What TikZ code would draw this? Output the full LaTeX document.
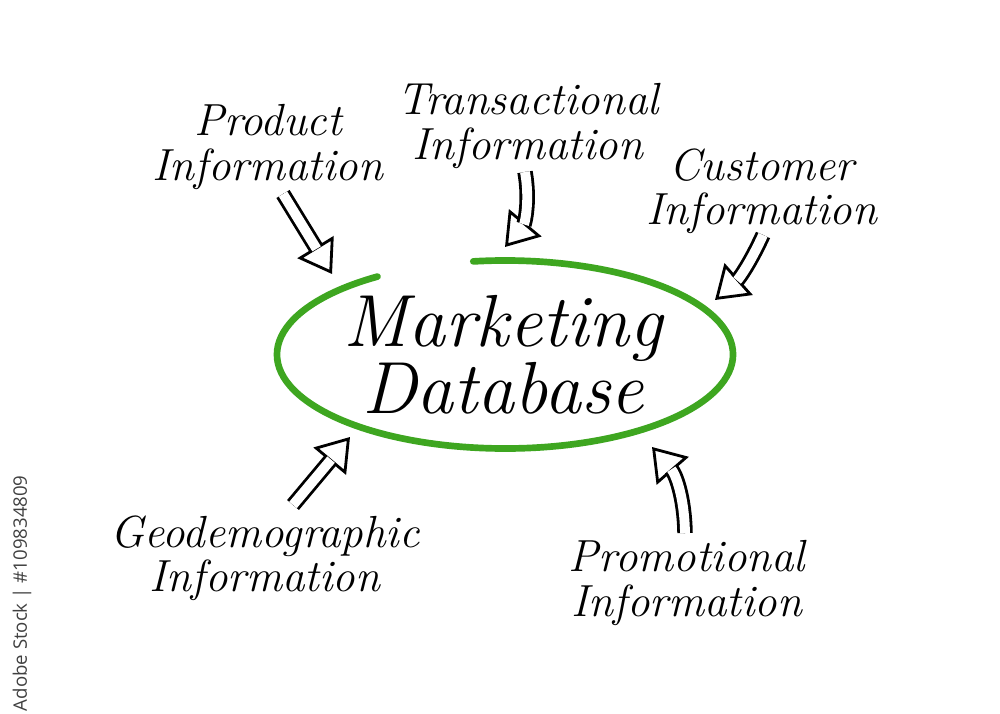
\documentclass[tikz,border=0pt]{standalone}
\usepackage{fontspec}
\newfontfamily\stockfont{Open Sans}
\usetikzlibrary{arrows.meta}
\definecolor{rimgreen}{RGB}{62,166,32}
\begin{document}
\begin{tikzpicture}[
  label/.style={align=center, font=\fontsize{12.8}{12.6}\selectfont\itshape},
  head/.style={line width=0.8pt, -{Triangle[open, length=9pt, width=12pt]}},
  shaft/.style={line width=0.8pt, double=white, double distance=2.8pt, shorten >=8.4pt},
  rim/.style={rimgreen, line width=1.9pt, line cap=round}
]
\useasboundingbox (0,0) rectangle (10,7.13);
\node[align=center, font=\fontsize{21}{19}\selectfont\itshape] (mkt) at (5.03,3.58) {Marketing\\Database};
\draw[rim] (5.05,3.585) ++(124:2.28 and 0.94) arc[start angle=124, end angle=458, x radius=2.28, y radius=0.94];
\node[label] (prod) at (2.68,5.66) {Product\\Information};
\node[label] (trans) at (5.28,5.87) {Transactional\\Information};
\node[label] (cust) at (7.62,5.22) {Customer\\Information};
\node[label] (geo) at (2.65,1.55) {Geodemographic\\Information};
\node[label] (promo) at (6.87,1.30) {Promotional\\Information};
\coordinate (prodtail) at (2.83,5.19);  \coordinate (prodtip) at (3.32,4.39);
\coordinate (transtail) at (5.25,5.41); \coordinate (transtip) at (5.05,4.66);
\coordinate (custtail) at (7.63,4.78);  \coordinate (custtip) at (7.15,4.13);
\coordinate (geotail) at (2.93,2.08);   \coordinate (geotip) at (3.50,2.76);
\coordinate (promotail) at (6.85,1.80); \coordinate (promotip) at (6.52,2.66);
% hollow arrows: tip first, then the double shaft over it
\draw[head] (prodtail) -- (prodtip);
\draw[shaft] (prodtail) -- (prodtip);
\draw[head] (transtail) to[bend left=25] (transtip);
\draw[shaft] (transtail) to[bend left=25] (transtip);
\draw[head] (custtail) to[bend left=12] (custtip);
\draw[shaft] (custtail) to[bend left=12] (custtip);
\draw[head] (geotail) -- (geotip);
\draw[shaft] (geotail) -- (geotip);
\draw[head] (promotail) to[bend right=20] (promotip);
\draw[shaft] (promotail) to[bend right=20] (promotip);
\node[rotate=90, anchor=east, text=black!75, font=\stockfont\fontsize{5.3}{6}\selectfont] (stock) at (0.22,2.5) {Adobe Stock | \#109834809};
\end{tikzpicture}
\end{document}
